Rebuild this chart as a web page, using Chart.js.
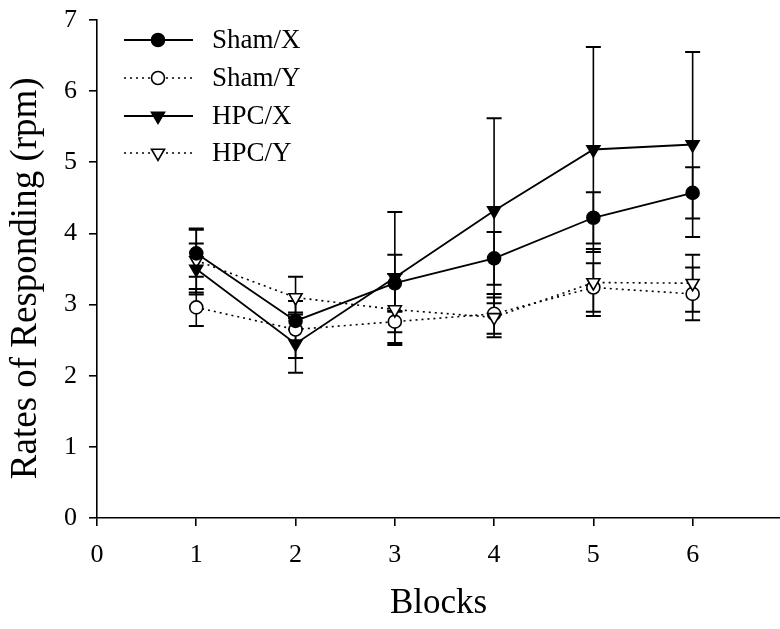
<!DOCTYPE html>
<html>
<head>
<meta charset="utf-8">
<script src="https://cdn.jsdelivr.net/npm/chart.js@4/dist/chart.umd.min.js"></script>
<style>
  html, body { margin: 0; padding: 0; background: #fff; }
  #wrap { width: 780px; height: 629px; position: relative; }
</style>
</head>
<body>
<div id="wrap"><canvas id="chart" width="780" height="629"></canvas></div>
<script>
// blocks on the x axis
var blocks = [1, 2, 3, 4, 5, 6];
var xTicks = [0, 1, 2, 3, 4, 5, 6];
var yTicks = [0, 1, 2, 3, 4, 5, 6, 7];

// means
var shamX = [3.72, 2.77, 3.30, 3.65, 4.22, 4.57];
var shamY = [2.96, 2.65, 2.76, 2.87, 3.24, 3.15];
var hpcX  = [3.50, 2.45, 3.38, 4.32, 5.18, 5.25];
var hpcY  = [3.62, 3.10, 2.93, 2.82, 3.31, 3.30];

// error bar half-lengths
var shamXErr = [0.33, 0.12, 0.40, 0.37, 0.36, 0.36];
var shamYErr = [0.26, 0.40, 0.15, 0.28, 0.34, 0.37];
var hpcXErr  = [0.36, 0.41, 0.92, 1.30, 1.44, 1.30];
var hpcYErr  = [0.45, 0.29, 0.50, 0.28, 0.47, 0.40];

var seriesNames = ["Sham/X", "Sham/Y", "HPC/X", "HPC/Y"];

var serif = "'Liberation Serif', 'Times New Roman', serif";

function points(vals){
    return vals.map(function(v, i){ return {x: blocks[i], y: v}; });
}

var solid = [];
var dotted = [2, 4];

var datasets = [
    {label: seriesNames[0], data: points(shamX), err: shamXErr, borderDash: solid,
     pointStyle: "circle", pointBackgroundColor: "#000", rotation: 0, order: 0},
    {label: seriesNames[1], data: points(shamY), err: shamYErr, borderDash: dotted,
     pointStyle: "circle", pointBackgroundColor: "#fff", rotation: 0, order: 3},
    {label: seriesNames[2], data: points(hpcX), err: hpcXErr, borderDash: solid,
     pointStyle: "triangle", pointBackgroundColor: "#000", rotation: 180, order: 1},
    {label: seriesNames[3], data: points(hpcY), err: hpcYErr, borderDash: dotted,
     pointStyle: "triangle", pointBackgroundColor: "#fff", rotation: 180, order: 2}
].map(function(d){
    d.borderColor = "#000";
    d.borderWidth = d.borderDash.length ? 1.6 : 1.8;
    d.pointBorderColor = "#000";
    d.pointBorderWidth = 1.6;
    d.pointRadius = d.pointStyle == "circle" ? 6.5 : 7.5;
    d.pointRotation = d.rotation;
    d.showLine = true;
    d.tension = 0;
    return d;
});

// vertical error bars, drawn under the markers
var errorBars = {
    id: "errorBars",
    beforeDatasetsDraw: function(chart){
        var ctx = chart.ctx;
        var xs = chart.scales.x, ys = chart.scales.y;
        ctx.save();
        ctx.strokeStyle = "#000";
        chart.data.datasets.forEach(function(ds){
            ds.data.forEach(function(p, i){
                var e = ds.err[i];
                var px = xs.getPixelForValue(p.x);
                var top = ys.getPixelForValue(p.y + e);
                var bot = ys.getPixelForValue(p.y - e);
                ctx.lineWidth = 1.6;
                ctx.beginPath();
                ctx.moveTo(px, top);
                ctx.lineTo(px, bot);
                ctx.stroke();
                ctx.lineWidth = 2;
                ctx.beginPath();
                ctx.moveTo(px - 7.5, top); ctx.lineTo(px + 7.5, top);
                ctx.moveTo(px - 7.5, bot); ctx.lineTo(px + 7.5, bot);
                ctx.stroke();
            });
        });
        ctx.restore();
    }
};

function drawMarker(ctx, ds, x, y){
    var r = ds.pointRadius;
    ctx.beginPath();
    if (ds.pointStyle == "circle") {
        ctx.arc(x, y, r, 0, Math.PI * 2);
    } else {
        // downward triangle
        var h = r * 1.5;
        ctx.moveTo(x - r * 0.87, y - h / 3);
        ctx.lineTo(x + r * 0.87, y - h / 3);
        ctx.lineTo(x, y + 2 * h / 3);
        ctx.closePath();
    }
    ctx.fillStyle = ds.pointBackgroundColor;
    ctx.fill();
    ctx.lineWidth = 1.6;
    ctx.strokeStyle = "#000";
    ctx.stroke();
}

// legend in the upper left of the plot: line, marker, label
var insideLegend = {
    id: "insideLegend",
    afterDraw: function(chart){
        var ctx = chart.ctx;
        var rows = [40, 78, 116, 153];
        ctx.save();
        chart.data.datasets.forEach(function(ds, i){
            var y = rows[i];
            ctx.strokeStyle = "#000";
            ctx.lineWidth = ds.borderWidth;
            ctx.setLineDash(ds.borderDash);
            ctx.beginPath();
            ctx.moveTo(124, y);
            ctx.lineTo(193, y);
            ctx.stroke();
            ctx.setLineDash([]);
            drawMarker(ctx, ds, 158, y);
            ctx.fillStyle = "#000";
            ctx.font = "27px " + serif;
            ctx.textBaseline = "middle";
            ctx.fillText(ds.label, 212, y + 1);
        });
        ctx.restore();
    }
};

var axisCommon = {
    border: {color: "#000", width: 1.6},
    grid: {display: true, drawOnChartArea: false, drawTicks: true, tickLength: 8,
           color: "#000", lineWidth: 1.6},
    ticks: {color: "#000", font: {family: serif, size: 26}, stepSize: 1, includeBounds: false}
};

var chart = new Chart("chart", {
    type: "scatter",
    data: {datasets: datasets},
    plugins: [errorBars, insideLegend],
    options: {
        responsive: false,
        animation: false,
        layout: {autoPadding: false, padding: {top: 20, right: 0, left: 0, bottom: 0}},
        plugins: {legend: {display: false}, tooltip: {enabled: false}},
        scales: {
            x: Object.assign({}, axisCommon, {
                type: "linear", min: 0, max: 6.88,
                afterBuildTicks: function(s){ s.ticks = xTicks.map(function(v){ return {value: v}; }); },
                ticks: Object.assign({}, axisCommon.ticks, {padding: 14}),
                title: {display: true, text: "Blocks", color: "#000",
                        font: {family: serif, size: 35}, padding: {top: 4, bottom: 4}},
                afterFit: function(s){ s.height = 111; s.paddingLeft = 0; s.paddingRight = 0; }
            }),
            y: Object.assign({}, axisCommon, {
                type: "linear", min: 0, max: 7,
                afterBuildTicks: function(s){ s.ticks = yTicks.map(function(v){ return {value: v}; }); },
                ticks: Object.assign({}, axisCommon.ticks, {padding: 12}),
                title: {display: true, text: "Rates of Responding (rpm)  ", color: "#000",
                        font: {family: serif, size: 37}, padding: {top: 4, bottom: 4}},
                afterFit: function(s){ s.width = 97; s.paddingTop = 0; s.paddingBottom = 0; }
            })
        }
    }
});
</script>
</body>
</html>
